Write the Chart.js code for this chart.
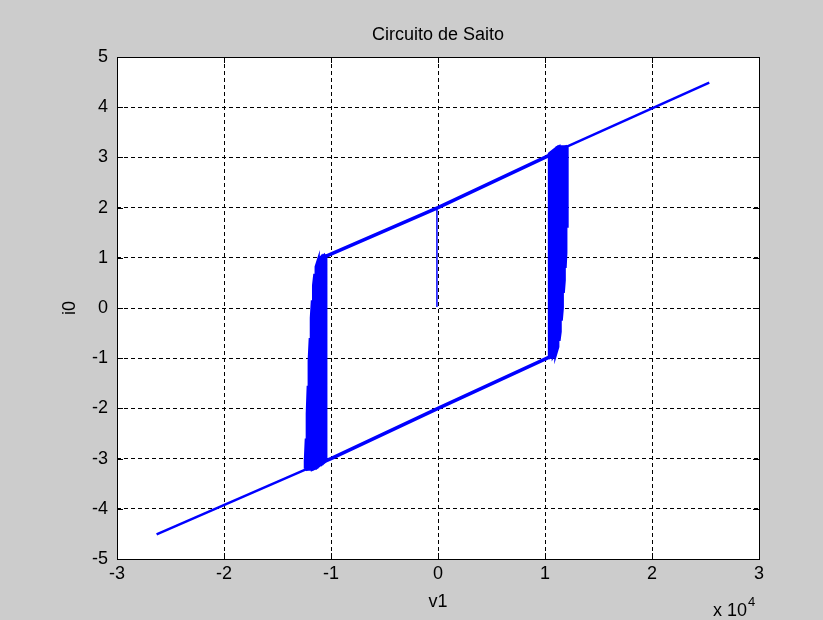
<!DOCTYPE html>
<html>
<head>
<meta charset="utf-8">
<style>
  html, body { margin: 0; padding: 0; background: #cccccc; }
  #wrap { width: 823px; height: 620px; }
</style>
<script src="https://cdn.jsdelivr.net/npm/chart.js@4/dist/chart.umd.min.js"></script>
</head>
<body>
<div id="wrap"><canvas id="chart" width="823" height="620"></canvas></div>
<script>
// values in units of 1e4 for v1, plain i0
const X_TICKS = [-3, -2, -1, 0, 1, 2, 3]
const Y_TICKS = [-5, -4, -3, -2, -1, 0, 1, 2, 3, 4, 5]

const upperInnerX = [-1.05, 0, 1.0, 1.21]
const upperInnerY = [1.03, 2.0, 3.0, 3.22]
const upperOuterX = [1.21, 2.535]
const upperOuterY = [3.22, 4.49]
const lowerInnerX = [-1.24, -1.0, 0, 1.04]
const lowerInnerY = [-3.22, -3.0, -2.0, -0.98]
const lowerOuterX = [-2.63, -1.24]
const lowerOuterY = [-4.51, -3.22]

const startX = [-0.01, -0.01]
const startY = [0.02, 2.0]

// switching band strokes: x position, low end, high end
const rightBandX = [1.045, 1.057, 1.069, 1.081, 1.093, 1.105, 1.116, 1.127, 1.138, 1.148, 1.158, 1.167, 1.176, 1.184, 1.191, 1.198, 1.205]
const rightBandLow = [-0.98, -0.97, -0.96, -0.93, -0.89, -0.85, -0.77, -0.65, -0.47, -0.25, 0.0, 0.3, 0.55, 0.8, 1.1, 1.6, 2.25]
const rightBandHigh = [3.07, 3.09, 3.11, 3.13, 3.15, 3.17, 3.19, 3.2, 3.2, 3.2, 3.2, 3.2, 3.2, 3.2, 3.2, 3.2, 3.2]

const leftBandX = [-1.236, -1.227, -1.218, -1.209, -1.2, -1.19, -1.18, -1.17, -1.159, -1.147, -1.135, -1.123, -1.111, -1.099, -1.087, -1.075, -1.063, -1.052]
const leftBandLow = [-3.2, -3.2, -3.2, -3.2, -3.2, -3.2, -3.2, -3.2, -3.19, -3.18, -3.17, -3.15, -3.13, -3.11, -3.1, -3.08, -3.06, -3.05]
const leftBandHigh = [-3.05, -2.6, -2.1, -1.55, -1.05, -0.6, -0.2, 0.15, 0.45, 0.68, 0.82, 0.9, 0.95, 0.98, 1.0, 1.02, 1.03, 1.03]

const BLUE = '#0000ff'
const FONT = '"Liberation Sans", Arial, sans-serif'

function toPoints(xs, ys) {
  return xs.map((x, i) => ({ x, y: ys[i] }))
}

function zigzag(xs, lows, highs) {
  const pts = []
  xs.forEach((x, i) => {
    if (i % 2 === 0) pts.push({ x, y: lows[i] }, { x, y: highs[i] })
    else pts.push({ x, y: highs[i] }, { x, y: lows[i] })
  })
  return pts
}

function lineSet(data, width) {
  return {
    data,
    showLine: true,
    borderColor: BLUE,
    backgroundColor: BLUE,
    borderWidth: width,
    pointRadius: 0,
    fill: false,
    tension: 0,
  }
}

const frame = {
  id: 'frame',
  beforeDraw(chart) {
    const { ctx, chartArea: a } = chart
    ctx.save()
    ctx.fillStyle = '#ffffff'
    ctx.fillRect(a.left, a.top, a.right - a.left, a.bottom - a.top)
    ctx.restore()
  },
  afterDatasetsDraw(chart) {
    const { ctx, chartArea: a, scales } = chart
    ctx.save()
    ctx.strokeStyle = '#000'
    ctx.lineWidth = 1
    ctx.beginPath()
    for (const v of X_TICKS) {
      const px = Math.round(scales.x.getPixelForValue(v)) + 0.5
      ctx.moveTo(px, a.bottom); ctx.lineTo(px, a.bottom - 6)
      ctx.moveTo(px, a.top); ctx.lineTo(px, a.top + 6)
    }
    for (const v of Y_TICKS) {
      const py = Math.round(scales.y.getPixelForValue(v)) + 0.5
      ctx.moveTo(a.left, py); ctx.lineTo(a.left + 6, py)
      ctx.moveTo(a.right, py); ctx.lineTo(a.right - 6, py)
    }
    ctx.stroke()
    ctx.strokeRect(Math.round(a.left) + 0.5, Math.round(a.top) + 0.5,
      Math.round(a.right - a.left), Math.round(a.bottom - a.top))
    ctx.restore()
  },
  afterDraw(chart) {
    const { ctx, chartArea: a } = chart
    const cx = (a.left + a.right) / 2
    ctx.save()
    ctx.fillStyle = '#000'
    ctx.textAlign = 'center'
    ctx.textBaseline = 'middle'
    ctx.font = `18px ${FONT}`
    ctx.fillText('Circuito de Saito', cx, 35)
    ctx.fillText('v1', cx, 602)
    ctx.save()
    ctx.translate(70, (a.top + a.bottom) / 2)
    ctx.rotate(-Math.PI / 2)
    ctx.fillText('i0', 0, 0)
    ctx.restore()
    ctx.textAlign = 'left'
    ctx.textBaseline = 'alphabetic'
    const base = 'x 10'
    ctx.fillText(base, 713, 616)
    const w = ctx.measureText(base).width
    ctx.font = `13px ${FONT}`
    ctx.fillText('4', 713 + w + 1, 606)
    ctx.restore()
  },
}

new Chart(document.getElementById('chart'), {
  type: 'scatter',
  data: {
    datasets: [
      lineSet(toPoints(lowerOuterX, lowerOuterY), 2.5),
      lineSet(toPoints(upperOuterX, upperOuterY), 2.5),
      lineSet(toPoints(lowerInnerX, lowerInnerY), 3.5),
      lineSet(toPoints(upperInnerX, upperInnerY), 3.5),
      lineSet(toPoints(startX, startY), 1.5),
      lineSet(zigzag(rightBandX, rightBandLow, rightBandHigh), 4),
      lineSet(zigzag(leftBandX, leftBandLow, leftBandHigh), 4),
    ],
  },
  options: {
    responsive: false,
    animation: false,
    devicePixelRatio: 1,
    layout: { padding: { top: 57, right: 64, left: 0, bottom: 0 } },
    plugins: {
      legend: { display: false },
      tooltip: { enabled: false },
      title: { display: false },
    },
    scales: {
      x: {
        type: 'linear',
        min: -3,
        max: 3,
        afterFit(scale) { scale.height = 61 },
        afterBuildTicks(scale) { scale.ticks = X_TICKS.map((value) => ({ value })) },
        ticks: { color: '#000', font: { family: FONT, size: 18 }, padding: 4, maxRotation: 0 },
        grid: { color: '#000', lineWidth: 1, drawTicks: false },
        border: { display: false, dash: [4, 3] },
      },
      y: {
        type: 'linear',
        min: -5,
        max: 5,
        afterFit(scale) { scale.width = 117 },
        afterBuildTicks(scale) { scale.ticks = Y_TICKS.map((value) => ({ value })) },
        ticks: { color: '#000', font: { family: FONT, size: 18 }, padding: 9 },
        grid: { color: '#000', lineWidth: 1, drawTicks: false },
        border: { display: false, dash: [4, 3] },
      },
    },
  },
  plugins: [frame],
})
</script>
</body>
</html>
